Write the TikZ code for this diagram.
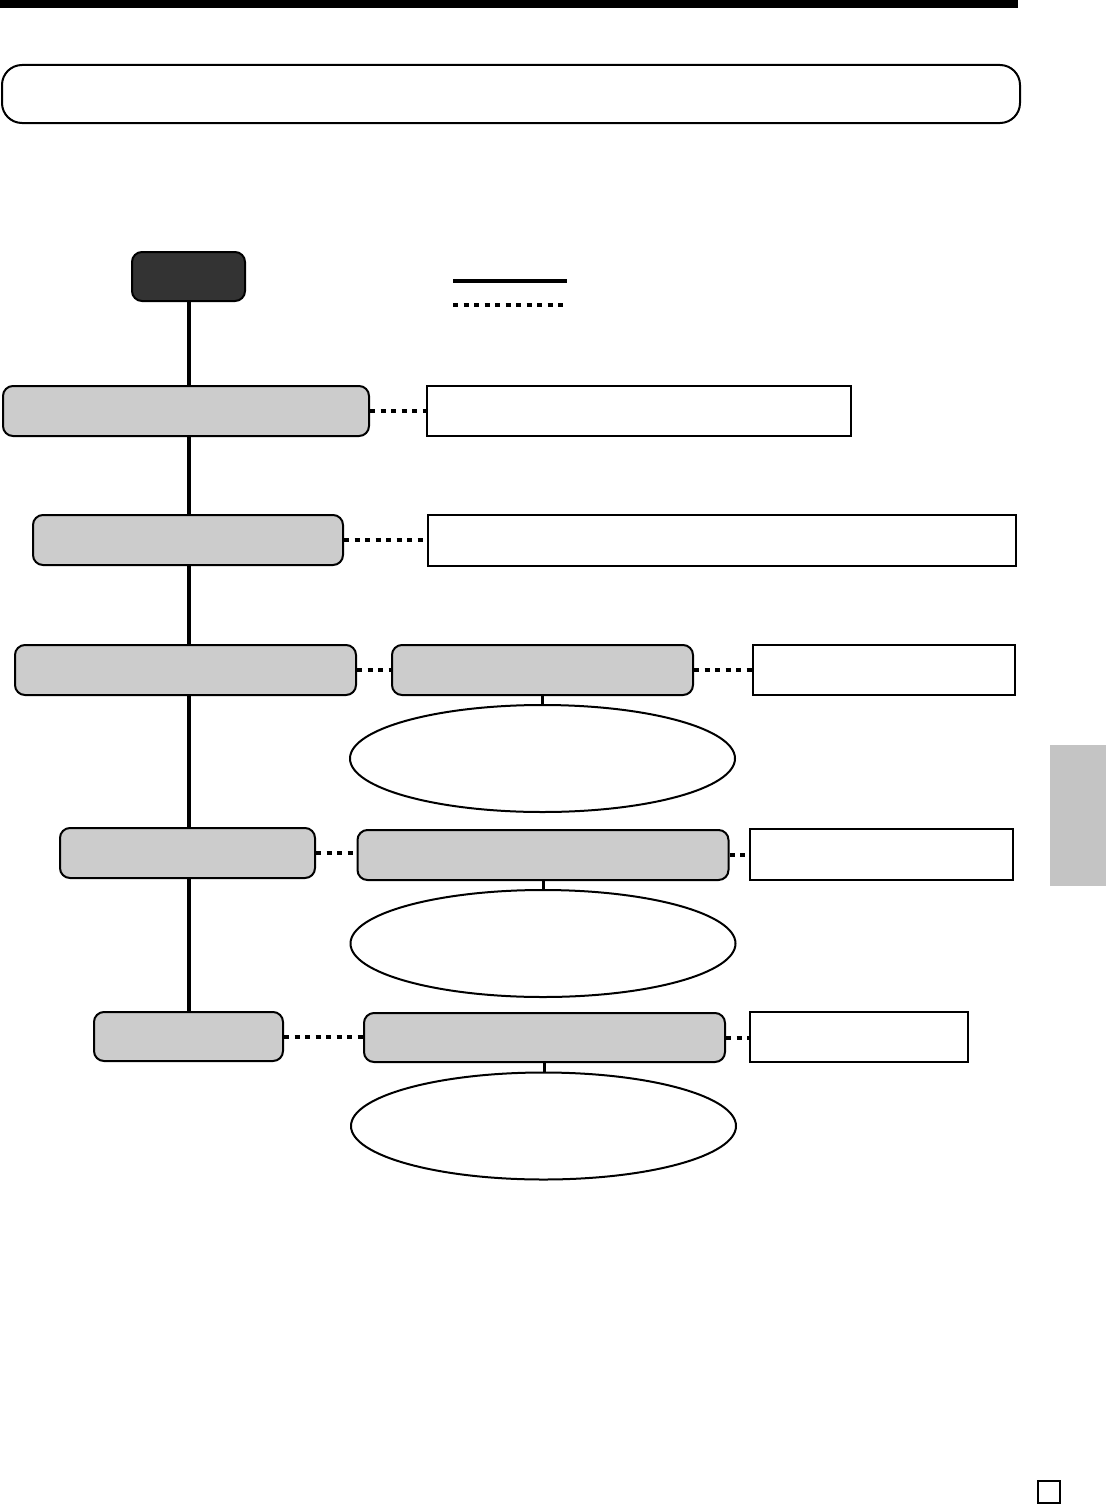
\documentclass[tikz,border=0pt]{standalone}
\usetikzlibrary{shapes.geometric}
\begin{document}
\begin{tikzpicture}[x=1pt,y=-1pt,
  gbox/.style={draw=black,fill=black!20,line width=2pt,rounded corners=10pt,inner sep=0pt},
  wbox/.style={draw=black,fill=white,line width=2pt,inner sep=0pt},
  dbox/.style={draw=black,fill=black!80,line width=2pt,rounded corners=10pt,inner sep=0pt},
  oval/.style={draw=black,fill=white,ellipse,line width=2pt,inner sep=0pt,minimum width=385pt,minimum height=107pt},
  mainline/.style={line width=4pt},
  dotline/.style={line width=4pt,dash pattern=on 5pt off 5.5pt},
  stub/.style={line width=3pt}]
\useasboundingbox (0,0) rectangle (1106,1504);
% top bar
\fill[black] (0,0) rectangle (1018,8);
% title box
\node[draw=black,line width=2pt,rounded corners=20pt,inner sep=0pt,minimum width=1018pt,minimum height=58pt] (title) at (511,94) {};
% start
\node[dbox,minimum width=113pt,minimum height=49pt] (start) at (188.5,276.5) {};
% legend
\coordinate (ls1) at (453,281); \coordinate (ls2) at (567,281);
\coordinate (ld1) at (453,305); \coordinate (ld2) at (567,305);
\draw[mainline] (ls1) -- (ls2);
\draw[dotline] (ld1) -- (ld2);
% row 1
\node[gbox,minimum width=366pt,minimum height=50pt] (b1) at (186,411) {};
\node[wbox,minimum width=424pt,minimum height=50pt] (w1) at (639,410.5) {};
% row 2
\node[gbox,minimum width=310pt,minimum height=50pt] (b2) at (188,540) {};
\node[wbox,minimum width=588pt,minimum height=51pt] (w2) at (722,540) {};
% row 3
\node[gbox,minimum width=301pt,minimum height=50pt] (c3) at (542.5,670) {};
\node[gbox,minimum width=341pt,minimum height=50pt] (b3) at (185.5,670) {};
\node[wbox,minimum width=262pt,minimum height=50pt] (w3) at (884,670) {};
\node[oval] (e3) at (542.5,758.5) {};
% row 4
\node[gbox,minimum width=255pt,minimum height=50pt] (b4) at (187.5,853) {};
\node[gbox,minimum width=371pt,minimum height=50pt] (c4) at (543,855) {};
\node[wbox,minimum width=263pt,minimum height=51pt] (w4) at (881.5,854.5) {};
\node[oval] (e4) at (543,943.5) {};
% row 5
\node[gbox,minimum width=189pt,minimum height=49pt] (b5) at (188.5,1036.5) {};
\node[gbox,minimum width=361pt,minimum height=49pt] (c5) at (544.5,1037.5) {};
\node[wbox,minimum width=218pt,minimum height=50pt] (w5) at (859,1037) {};
\node[oval] (e5) at (543.5,1126) {};
% main line
\draw[mainline] (start.south) -- (start.south |- b1.north);
\draw[mainline] (start.south |- b1.south) -- (start.south |- b2.north);
\draw[mainline] (start.south |- b2.south) -- (start.south |- b3.north);
\draw[mainline] (start.south |- b3.south) -- (start.south |- b4.north);
\draw[mainline] (start.south |- b4.south) -- (start.south |- b5.north);
% dotted connectors
\draw[dotline] (b1.east) -- (b1.east -| w1.west);
\draw[dotline] (b2.east) -- (b2.east -| w2.west);
\draw[dotline] (b3.east) -- (b3.east -| c3.west);
\draw[dotline] (c3.east) -- (c3.east -| w3.west);
\draw[dotline] (b4.east) -- (b4.east -| c4.west);
\draw[dotline] (c4.east) -- (c4.east -| w4.west);
\draw[dotline] (b5.east) -- (b5.east -| c5.west);
\draw[dotline] (c5.east) -- (c5.east -| w5.west);
% stubs
\draw[stub] (c3.south) -- (c3.south |- e3.north);
\draw[stub] (c4.south) -- (c4.south |- e4.north);
\draw[stub] (c5.south) -- (c5.south |- e5.north);
% side tab
\fill[black!23] (1050,745) rectangle (1106,886);
% page square
\node[draw=black,line width=1.5pt,minimum width=22pt,minimum height=22pt,inner sep=0pt] (pg) at (1049,1492) {};
\end{tikzpicture}
\end{document}
